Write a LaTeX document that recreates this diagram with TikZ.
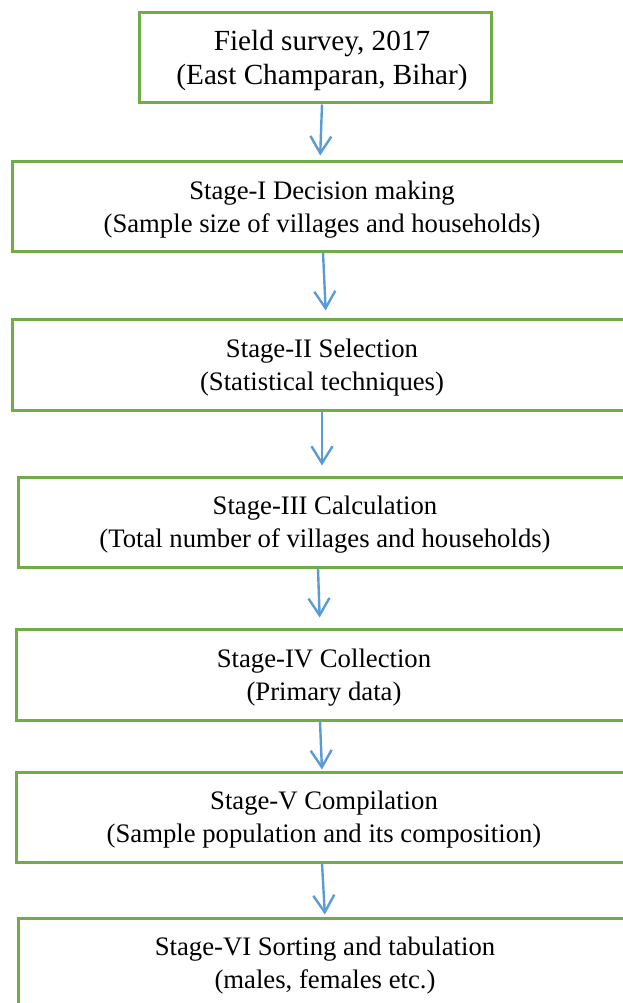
\documentclass[tikz,border=0pt]{standalone}
\usepackage{fontspec}
\setmainfont{Liberation Serif}
\usetikzlibrary{arrows.meta}
\definecolor{boxgreen}{HTML}{70AD47}
\definecolor{arrblue}{HTML}{5B9BD5}
\tikzset{
  stagebox/.style={draw=boxgreen, line width=3pt, rectangle, minimum width=620pt,
    align=center, inner sep=0pt, text depth=0pt, font=\fontsize{26.7}{33}\selectfont},
  toptext/.style={align=center, inner sep=0pt, font=\fontsize{29.2}{34}\selectfont},
  arr/.style={draw=arrblue, line width=2.4pt, -{Straight Barb[length=17pt,width=21pt,line width=2.4pt]}}
}
\begin{document}
\begin{tikzpicture}[x=1pt,y=-1pt]
\useasboundingbox (0,0) rectangle (623,1003);
\node[draw=boxgreen, line width=3pt, rectangle, minimum width=352pt, minimum height=90pt, inner sep=0pt] (n0) at (315,58) {};
\node[toptext] (t0) at (322,60) {Field survey, 2017\\(East Champaran, Bihar)};
\node[stagebox, minimum height=89pt] (n1) at (322,206.5) {Stage-I Decision making\\(Sample size of villages and households)};
\node[stagebox, minimum height=91pt] (n2) at (322,364.5) {Stage-II Selection\\(Statistical techniques)};
\node[stagebox, minimum height=90pt, minimum width=614pt] (n3) at (325,522) {Stage-III Calculation\\(Total number of villages and households)};
\node[stagebox, minimum height=91pt, minimum width=616pt] (n4) at (324,674.5) {Stage-IV Collection\\(Primary data)};
\node[stagebox, minimum height=90pt, minimum width=616pt] (n5) at (324,817) {Stage-V Compilation\\(Sample population and its composition)};
\node[stagebox, minimum height=90pt, minimum width=614pt] (n6) at (325,963) {Stage-VI Sorting and tabulation\\(males, females etc.)};
\draw[arr, shorten >=5pt] ([xshift=7pt]n0.south) -- ([xshift=-2pt]n1.north);
\draw[arr, shorten >=7pt] ([xshift=1pt]n1.south) -- ([xshift=4pt]n2.north);
\draw[arr, shorten >=10pt] (n2.south) -- (n3.north -| n2.south);
\draw[arr, shorten >=10pt] ([xshift=-7pt]n3.south) -- ([xshift=-4pt]n4.north);
\draw[arr, shorten >=1pt] ([xshift=-4pt]n4.south) -- ([xshift=-2pt]n5.north);
\draw[arr, shorten >=2pt] ([xshift=-2pt]n5.south) -- (n6.north);
\end{tikzpicture}
\end{document}
